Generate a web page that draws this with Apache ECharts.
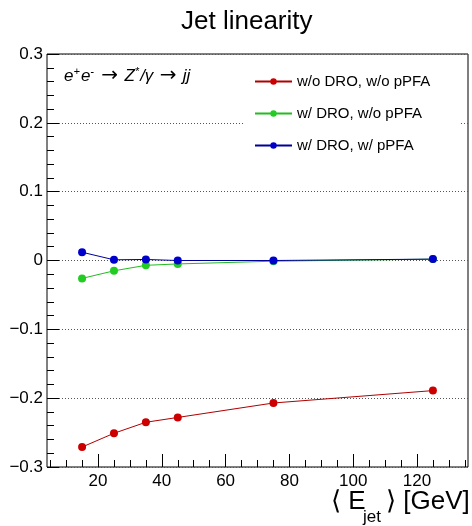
<!DOCTYPE html>
<html>
<head>
<meta charset="utf-8">
<script src="https://cdn.jsdelivr.net/npm/echarts@6/dist/echarts.min.js"></script>
<style>
html,body{margin:0;padding:0;background:#fff;}
#c{width:472px;height:526px;}
</style>
</head>
<body>
<div id="c"></div>
<script>
var energies = [15, 25, 35, 45, 75, 125];
var seriesNames = ['w/o DRO, w/o pPFA', 'w/ DRO, w/o pPFA', 'w/ DRO, w/ pPFA'];
var redVals = [-0.271, -0.251, -0.235, -0.228, -0.207, -0.189];
var greenVals = [-0.026, -0.015, -0.007, -0.005, -0.001, 0.002];
var blueVals = [0.012, 0.001, 0.0015, 0.000, 0.000, 0.002];
var xMajorTicks = [20, 40, 60, 80, 100, 120];
var xMinorTicks = [5, 10, 15, 25, 30, 35, 45, 50, 55, 65, 70, 75, 85, 90, 95, 105, 110, 115, 125, 130, 135];

var FONT = 'Liberation Sans, Arial, Helvetica, sans-serif';
var colors = ['#cc0000', '#22cc22', '#0000cc'];
var lineColors = ['#b00000', '#22bb22', '#000099'];
var vals = [redVals, greenVals, blueVals];

function pairs(v){ return energies.map(function(e,i){ return [e, v[i]]; }); }

var chart = echarts.init(document.getElementById('c'), null, {renderer:'canvas'});
var option = {
  backgroundColor: '#fff',
  animation: false,
  title: {
    text: 'Jet linearity', left: 176, top: 4,
    textStyle: {fontFamily: FONT, fontSize: 26, fontWeight: 'normal', color: '#000'}
  },
  grid: {left: 47, right: 4, top: 54, bottom: 59, show: true, borderColor: '#000', borderWidth: 1, backgroundColor: 'transparent'},
  legend: {
    orient: 'vertical', left: 243, top: 64,
    data: seriesNames,
    itemWidth: 37, itemHeight: 8, itemGap: 17,
    padding: [10, 30, 12, 11],
    backgroundColor: '#fff',
    textStyle: {fontFamily: FONT, fontSize: 15, color: '#000'}
  },
  xAxis: [{
    type: 'value', min: 4, max: 136,
    axisLine: {show: false, onZero: false},
    splitLine: {show: false},
    axisTick: {show: true, inside: true, length: 13, customValues: xMajorTicks, lineStyle: {color: '#000'}},
    axisLabel: {customValues: xMajorTicks, fontFamily: FONT, fontSize: 17, color: '#000', margin: 6}
  }, {
    type: 'value', min: 4, max: 136, position: 'bottom',
    axisLine: {show: false, onZero: false}, splitLine: {show: false},
    axisTick: {show: true, inside: true, length: 7, customValues: xMinorTicks, lineStyle: {color: '#000'}},
    axisLabel: {show: false}
  }],
  yAxis: {
    type: 'value', min: -0.3, max: 0.3, interval: 0.1,
    axisLine: {show: false},
    axisTick: {show: true, inside: true, length: 12, lineStyle: {color: '#000'}},
    minorTick: {show: true, splitNumber: 5, length: 7, lineStyle: {color: '#000'}},
    splitLine: {show: true, lineStyle: {color: '#555', type: [1, 2], width: 1}},
    axisLabel: {
      fontFamily: FONT, fontSize: 17, color: '#000', margin: 4,
      formatter: function(v){ var r = Math.round(v*10)/10; if (r === 0) return '0'; return (r < 0 ? '\u2212' : '') + Math.abs(r).toFixed(1); }
    }
  },
  graphic: [
    {type: 'text', left: 64, top: 66, z: 100,
     style: {
       text: '{i|e}{s|+}{i|e}{s|-}{a| \u2192 }{i|Z}{s|*}{i|/\u03B3}{a| \u2192 }{i|jj}',
       fill: '#000',
       rich: {
         i: {fontFamily: FONT, fontSize: 17, fontStyle: 'italic', lineHeight: 22},
         s: {fontFamily: FONT, fontSize: 11, fontStyle: 'italic', padding: [0, 1, 9, 0], lineHeight: 22},
         a: {fontFamily: 'DejaVu Sans', fontSize: 20, lineHeight: 22}
       }
     }},
    {type: 'text', left: 331, top: 489, z: 100, style: {text: '\u27E8 E', fontFamily: FONT, fontSize: 26, fill: '#000'}},
    {type: 'text', left: 363, top: 509, z: 100, style: {text: 'jet', fontFamily: FONT, fontSize: 17, fill: '#000'}},
    {type: 'text', left: 386, top: 489, z: 100, style: {text: '\u27E9 [GeV]', fontFamily: FONT, fontSize: 26, fill: '#000'}}
  ],
  series: seriesNames.map(function(n, i){
    return {
      name: n, type: 'line', data: pairs(vals[i]),
      symbol: 'circle', symbolSize: 8,
      itemStyle: {color: colors[i]},
      lineStyle: {color: lineColors[i], width: 1},
      z: 3 + i
    };
  })
};
chart.setOption(option);
</script>
</body>
</html>
